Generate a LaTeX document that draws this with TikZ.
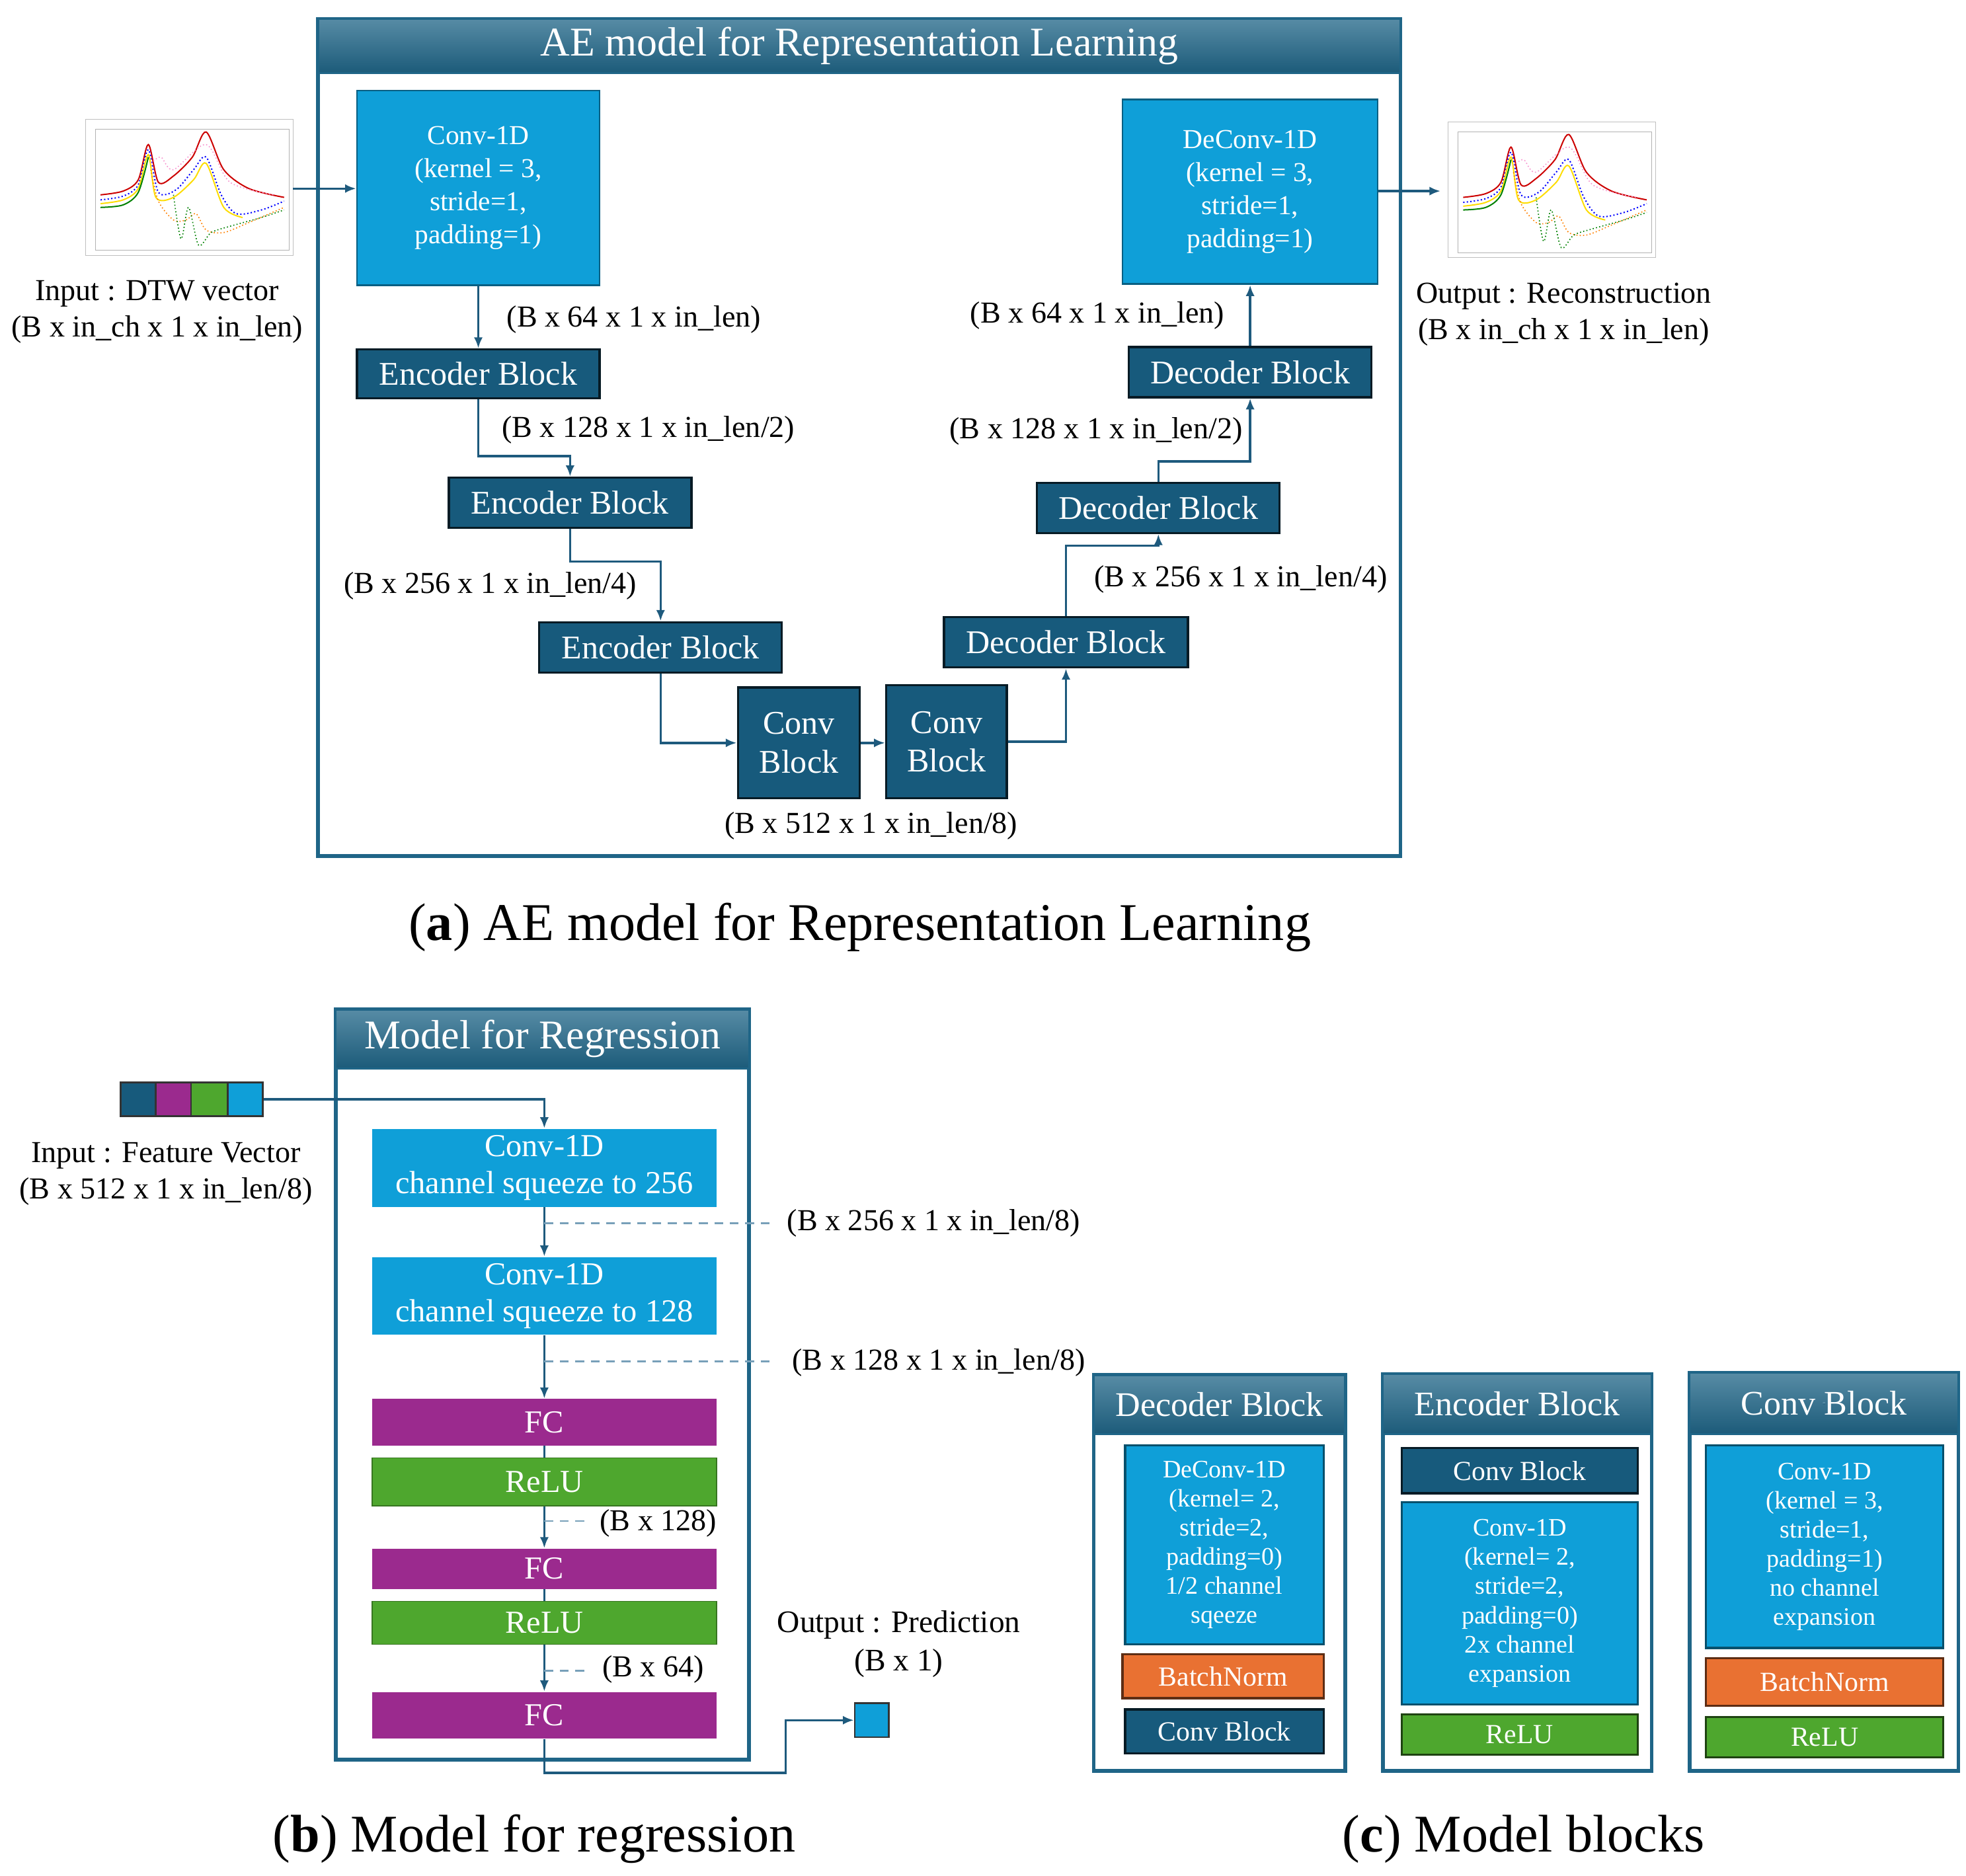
\documentclass[tikz,border=0pt]{standalone}
\usepackage{fontspec}
\setmainfont{Liberation Serif}
\usetikzlibrary{fit,arrows.meta,calc}
\definecolor{dblue}{RGB}{23,90,124}
\definecolor{cyanb}{RGB}{15,159,216}
\definecolor{purp}{RGB}{155,42,142}
\definecolor{grn}{RGB}{78,167,46}
\definecolor{orng}{RGB}{233,113,50}
\definecolor{frame}{RGB}{31,101,135}
\definecolor{lnk}{RGB}{30,90,125}
\definecolor{dsh}{RGB}{120,160,185}
\newcommand\bx[7]{\node[#2, fit={(#3,#4) (#5,#6)}, inner sep=0pt] (#1) {};
  \node[#2, draw=none, fill=none, inner sep=0pt] at (#1.center) {#7};}
\tikzset{
 every node/.style={font=\fontsize{13.5}{16}\selectfont},
 blk/.style={draw=black!70!dblue, fill=dblue, line width=1pt, text=white, align=center, font=\fontsize{15}{17.5}\selectfont},
 cy/.style={draw=black!40!cyanb, fill=cyanb, line width=0.8pt, text=white, align=center, font=\fontsize{12.4}{15}\selectfont},
 cyf/.style={fill=cyanb, text=white, align=center, font=\fontsize{14.5}{17}\selectfont},
 pu/.style={fill=purp, text=white, font=\fontsize{14.5}{17}\selectfont},
 gr/.style={fill=grn, draw=grn!70!black, text=white, font=\fontsize{14.5}{17}\selectfont},
 grb/.style={fill=grn, draw=black!60!grn, line width=1pt, text=white, font=\fontsize{12.5}{15}\selectfont},
 orb/.style={fill=orng, draw=black!60!orng, line width=1pt, text=white, font=\fontsize{12.5}{15}\selectfont},
 sblk/.style={blk, font=\fontsize{12.5}{15}\selectfont},
 scy/.style={cy, line width=1pt, draw=black!50!cyanb, font=\fontsize{11.4}{13.2}\selectfont},
 fr/.style={draw=frame, line width=1.7pt},
 tbar/.style={top color=frame!75!white, bottom color=frame!90!black, draw=frame, line width=1pt, text=white},
 arr/.style={draw=lnk, line width=1pt, -{Latex[length=5pt,width=4pt]}},
 ln/.style={draw=lnk, line width=1pt},
 dl/.style={draw=dsh, line width=0.8pt, dash pattern=on 4pt off 3pt},
 lab/.style={font=\fontsize{13.8}{16.5}\selectfont},
 captxt/.style={font=\fontsize{24}{28}\selectfont},
 ttl/.style={text=white, font=\fontsize{18.5}{22}\selectfont},
 sttl/.style={text=white, font=\fontsize{15.6}{18}\selectfont},
 pics/dtw/.style={code={
   \draw[gray!60, line width=0.3pt] (8,8) rectangle (162,104);
   \draw[gray!50, line width=0.3pt] (0,0) rectangle (165,108);
   \draw[red!80!black, line width=0.6pt] plot[smooth] coordinates {(12,60) (30,57) (42,48) (50,20) (58,50) (70,45) (85,30) (96,10) (110,40) (130,55) (158,62)};
   \draw[blue, line width=0.6pt, densely dotted] plot[smooth] coordinates {(12,64) (30,61) (42,52) (50,24) (58,58) (72,56) (86,40) (96,30) (108,60) (120,75) (140,72) (158,65)};
   \draw[yellow!80!orange, line width=0.6pt] plot[smooth] coordinates {(12,67) (30,64) (42,55) (50,28) (56,62) (70,62) (86,48) (96,35) (110,70) (125,78)};
   \draw[orange, line width=0.5pt, densely dotted] plot[smooth] coordinates {(52,40) (58,65) (70,80) (80,80) (88,75) (96,88) (110,90) (130,82) (158,70)};
   \draw[green!50!black, line width=0.6pt] plot[smooth] coordinates {(12,70) (30,68) (42,58) (50,30)};
   \draw[green!50!black, line width=0.5pt, densely dotted] plot[smooth] coordinates {(70,60) (76,95) (82,70) (90,100) (100,90) (115,85) (140,78) (158,72)};
   \draw[magenta!40, line width=0.5pt, densely dotted] plot[smooth] coordinates {(52,35) (60,30) (70,40) (96,20) (115,50) (150,60)};
 }}
}
\begin{document}
\begin{tikzpicture}[x=0.02cm,y=-0.02cm]
\useasboundingbox (0,0) rectangle (1564,1492);
% ===== (a)
\draw[fr] (253,15) rectangle (1114,681);
\bx{ta}{tbar}{253}{15}{1114}{58}{}
\node[ttl] at (ta.center) {AE model for Representation Learning};
\pic at (68,95) {dtw};
\coordinate (inp) at (233,150);
\node[lab, align=center] (intext) at (125,248) {Input : DTW vector\\(B x in\_ch x 1 x in\_len)};
\bx{conv}{cy}{284}{72}{477}{227}{Conv-1D\\(kernel = 3,\\stride=1,\\padding=1)}
\bx{enca}{blk}{284}{278}{477}{317}{Encoder Block}
\bx{encb}{blk}{357}{380}{550}{420}{Encoder Block}
\bx{encc}{blk}{429}{495}{622}{535}{Encoder Block}
\bx{cba}{blk}{587}{547}{684}{635}{Conv\\Block}
\bx{cbb}{blk}{705}{545}{801}{635}{Conv\\Block}
\bx{deca}{blk}{751}{491}{945}{531}{Decoder Block}
\bx{decb}{blk}{825}{384}{1018}{424}{Decoder Block}
\bx{decc}{blk}{898}{276}{1091}{316}{Decoder Block}
\bx{deconv}{cy}{893}{79}{1096}{226}{DeConv-1D\\(kernel = 3,\\stride=1,\\padding=1)}
\pic at (1152,97) {dtw};
\coordinate (outp) at (1146,152);
\node[lab, align=center] (outtext) at (1244,250) {Output : Reconstruction\\(B x in\_ch x 1 x in\_len)};
\draw[arr] (inp) -- (inp -| conv.west);
\draw[arr] (conv.south) -- (enca.north);
\draw[arr] (enca.south) -- ++(0,45) -| (encb.north);
\draw[arr] (encb.south) -- ++(0,26) -| (encc.north);
\draw[arr] (encc.south) |- (cba.west);
\draw[arr] (cba.east) -- (cbb.west |- cba.east);
\draw[arr] (cbb.east) -| (deca.south);
\draw[arr] (deca.north) -- ++(0,-56) -| (decb.south);
\draw[arr] (decb.north) -- ++(0,-16) -| (decc.south);
\draw[arr] (decc.north) -- (deconv.south -| decc.north);
\draw[arr] (deconv.east |- outp) -- (outp);
\node[lab, anchor=west] at (397,254) {(B x 64 x 1 x in\_len)};
\node[lab, anchor=west] at (393,342) {(B x 128 x 1 x in\_len/2)};
\node[lab] at (390,466) {(B x 256 x 1 x in\_len/4)};
\node[lab] at (693,657) {(B x 512 x 1 x in\_len/8)};
\node[lab] at (987,461) {(B x 256 x 1 x in\_len/4)};
\node[lab] at (872,343) {(B x 128 x 1 x in\_len/2)};
\node[lab] at (873,251) {(B x 64 x 1 x in\_len)};
\node[captxt] at (684,738) {(\textbf{a}) AE model for Representation Learning};
% ===== (b)
\draw[fr] (267,803) rectangle (596,1400);
\bx{tb}{tbar}{267}{803}{596}{850}{}
\node[ttl] at (tb.center) {Model for Regression};
\bx{fva}{draw=black!80, line width=0.8pt, fill=dblue}{96}{861}{124}{888}{}
\bx{fvb}{draw=black!80, line width=0.8pt, fill=purp}{124}{861}{152}{888}{}
\bx{fvc}{draw=black!80, line width=0.8pt, fill=grn}{152}{861}{181}{888}{}
\bx{fvd}{draw=black!80, line width=0.8pt, fill=cyanb}{181}{861}{209}{888}{}
\node[lab, align=center] at (132,934) {Input : Feature Vector\\(B x 512 x 1 x in\_len/8)};
\bx{rca}{cyf}{296}{898}{570}{960}{Conv-1D\\channel squeeze to 256}
\bx{rcb}{cyf}{296}{1000}{570}{1062}{Conv-1D\\channel squeeze to 128}
\bx{fca}{pu}{296}{1113}{570}{1150}{FC}
\bx{rla}{gr}{296}{1160}{570}{1198}{ReLU}
\bx{fcb}{pu}{296}{1232}{570}{1264}{FC}
\bx{rlb}{gr}{296}{1274}{570}{1308}{ReLU}
\bx{fcc}{pu}{296}{1346}{570}{1383}{FC}
\bx{outsq}{draw=black!80, line width=0.8pt, fill=cyanb}{680}{1355}{707}{1382}{}
\node[align=center, font=\fontsize{14.2}{17.5}\selectfont] at (715,1308) {Output : Prediction\\(B x 1)};
\draw[arr] (fvd.east) -| (rca.north);
\draw[arr] (rca.south) -- (rcb.north);
\draw[arr] (rcb.south) -- (fca.north);
\draw[ln] (fca.south) -- (rla.north);
\draw[arr] (rla.south) -- (fcb.north);
\draw[ln] (fcb.south) -- (rlb.north);
\draw[arr] (rlb.south) -- (fcc.north);
\draw[arr] (fcc.south) -- ++(0,27) -- ++(192,0) |- (outsq.west);
\draw[dl] (433,973) -- (612,973);
\draw[dl] (433,1083) -- (612,1083);
\draw[dl] (433,1210) -- (466,1210);
\draw[dl] (433,1329) -- (466,1329);
\node[lab, anchor=west] at (620,973) {(B x 256 x 1 x in\_len/8)};
\node[lab, anchor=west] at (624,1084) {(B x 128 x 1 x in\_len/8)};
\node[lab, anchor=west] at (471,1212) {(B x 128)};
\node[lab, anchor=west] at (473,1328) {(B x 64)};
\node[captxt] at (425,1463) {(\textbf{b}) Model for regression};
% ===== (c)
\draw[fr] (870,1094) rectangle (1070,1409);
\bx{tc1}{tbar}{870}{1094}{1070}{1141}{}
\node[sttl] at (tc1.center) {Decoder Block};
\bx{dca}{scy}{895}{1150}{1053}{1308}{DeConv-1D\\(kernel= 2,\\stride=2,\\padding=0)\\1/2 channel\\sqeeze}
\bx{dcb}{orb}{893}{1316}{1053}{1351}{BatchNorm}
\bx{dcc}{sblk}{895}{1360}{1053}{1395}{Conv Block}
\draw[fr] (1100,1093) rectangle (1314,1409);
\bx{tc2}{tbar}{1100}{1093}{1314}{1141}{}
\node[sttl] at (tc2.center) {Encoder Block};
\bx{eca}{sblk}{1115}{1152}{1303}{1188}{Conv Block}
\bx{ecb}{scy}{1115}{1195}{1303}{1356}{Conv-1D\\(kernel= 2,\\stride=2,\\padding=0)\\2x channel\\expansion}
\bx{ecc}{grb}{1115}{1364}{1303}{1396}{ReLU}
\draw[fr] (1344,1092) rectangle (1558,1409);
\bx{tc3}{tbar}{1344}{1092}{1558}{1141}{}
\node[sttl] at (tc3.center) {Conv Block};
\bx{cca}{scy}{1357}{1150}{1546}{1311}{Conv-1D\\(kernel = 3,\\stride=1,\\padding=1)\\no channel\\expansion}
\bx{ccb}{orb}{1357}{1319}{1546}{1357}{BatchNorm}
\bx{ccc}{grb}{1357}{1366}{1546}{1398}{ReLU}
\node[captxt] at (1212,1463) {(\textbf{c}) Model blocks};
\end{tikzpicture}
\end{document}
